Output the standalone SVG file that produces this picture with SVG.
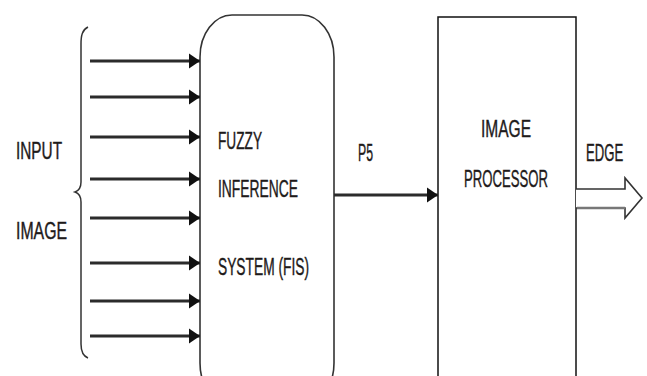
<svg xmlns="http://www.w3.org/2000/svg" width="647" height="376" viewBox="0 0 647 376">
<style>
text{font-family:"Liberation Sans","DejaVu Sans",sans-serif;font-size:23px;fill:#1e1a1a;stroke:#1e1a1a;stroke-width:0.4}
.w{fill:#fff;stroke:#333;stroke-width:1.6}
.c{stroke:#2b2b2b;stroke-width:3;fill:none}
</style>
<defs>
<marker id="ah" markerUnits="userSpaceOnUse" markerWidth="11" markerHeight="16" refX="11" refY="8" orient="auto">
<path d="M0,0.5 L11,8 L0,15.5 Z" fill="#111"/>
</marker>
</defs>
<rect width="647" height="376" fill="#fff"/>
<g id="input">
<path d="M88,27 C82,30 81,36 81,44 V182 C81,188 78,191 75,192 C78,193 81,196 81,202 V344 C81,352 83,356 88,358" fill="none" stroke="#333" stroke-width="1.5"/>
<text x="16" y="159" textLength="46" lengthAdjust="spacingAndGlyphs">INPUT</text>
<text x="16" y="239" textLength="51" lengthAdjust="spacingAndGlyphs">IMAGE</text>
</g>
<g id="fis">
<rect class="w" x="200" y="15" width="134" height="390" rx="32" ry="42"/>
<text x="218" y="149" textLength="44" lengthAdjust="spacingAndGlyphs">FUZZY</text>
<text x="218" y="197" textLength="80" lengthAdjust="spacingAndGlyphs">INFERENCE</text>
<text x="218" y="275" textLength="91" lengthAdjust="spacingAndGlyphs">SYSTEM (FIS)</text>
</g>
<g id="processor">
<rect x="438" y="17" width="138" height="380" fill="#fff" stroke="#111" stroke-width="1.5"/>
<text x="481" y="137" textLength="50" lengthAdjust="spacingAndGlyphs">IMAGE</text>
<text x="464" y="187" textLength="84" lengthAdjust="spacingAndGlyphs">PROCESSOR</text>
</g>
<g id="edge">
<path d="M576,189 H625 V178 L642,198 L625,218 V208 H576" fill="#fff" stroke="#333" stroke-width="1.6"/>
<line x1="577" y1="208" x2="625" y2="208" stroke="#777" stroke-width="2.5"/>
<text x="0" y="0" transform="matrix(0.82,0,0,1.44,586,161)" style="font-size:16px;stroke-width:0.3">EDGE</text>
</g>
<g id="connectors">
<line class="c" x1="90" y1="61" x2="200" y2="61" marker-end="url(#ah)"/>
<line class="c" x1="90" y1="97" x2="200" y2="97" marker-end="url(#ah)"/>
<line class="c" x1="90" y1="137" x2="200" y2="137" marker-end="url(#ah)"/>
<line class="c" x1="90" y1="179" x2="200" y2="179" marker-end="url(#ah)"/>
<line class="c" x1="90" y1="218" x2="200" y2="218" marker-end="url(#ah)"/>
<line class="c" x1="90" y1="263" x2="200" y2="263" marker-end="url(#ah)"/>
<line class="c" x1="90" y1="301" x2="200" y2="301" marker-end="url(#ah)"/>
<line class="c" x1="90" y1="336" x2="200" y2="336" marker-end="url(#ah)"/>
<line class="c" x1="334" y1="195" x2="438" y2="195" marker-end="url(#ah)"/>
<text x="358" y="161" textLength="15" lengthAdjust="spacingAndGlyphs">P5</text>
</g>
</svg>
